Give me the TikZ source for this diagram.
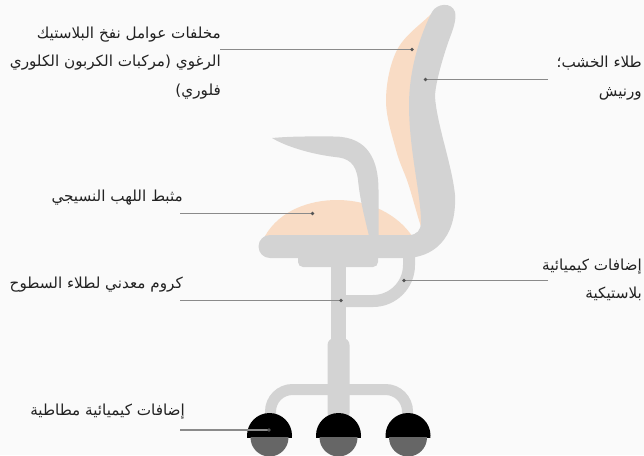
\documentclass[tikz,border=0pt]{standalone}
\usepackage{fontspec}
\newfontfamily\arabicfont[Script=Arabic]{DejaVu Sans}
\TeXXeTstate=1
\definecolor{bgcol}{HTML}{FAFAFA}
\definecolor{chairgray}{HTML}{D3D3D3}
\definecolor{cushion}{HTML}{F9DCC5}
\definecolor{leadgray}{HTML}{8A8A8A}
\definecolor{dotgray}{HTML}{555555}
\definecolor{ink}{HTML}{222222}
\definecolor{wheeldark}{HTML}{000000}
\definecolor{wheelgray}{HTML}{666666}
\begin{document}
\begin{tikzpicture}[x=1pt,y=-1pt,
  chair/.style={fill=chairgray},
  pad/.style={fill=cushion},
  tube/.style={draw=chairgray,line cap=butt},
  lbl/.style={font=\arabicfont\fontsize{15.2}{28.6}\selectfont,text=ink,inner sep=0pt,align=right},
  leader/.style={draw=leadgray,line width=1.3pt},
  tipdot/.style={fill=dotgray}]
\useasboundingbox (0,0) rectangle (644,455);
\fill[bgcol] (0,0) rectangle (644,455);

% back cushion (behind the frame)
\fill[pad] plot[smooth,tension=0.6] coordinates {(443,5) (428,17) (397,50) (386,100) (396,150) (408,183) (418,217) (424,236)}
  -- (425,200) -- (420,100) -- (435,20) -- cycle;
% seat cushion
\fill[pad] (265,236) .. controls (280,210) and (310,200) .. (337,200)
  .. controls (370,200) and (398,215) .. (412,236) -- cycle;

% armrest
\fill[chair] (272,138) .. controls (295,136) and (315,136.5) .. (335,136.5)
  .. controls (368,137) and (378.5,160) .. (378.5,190) -- (378.5,240) -- (370,240)
  .. controls (364,215) and (360,200) .. (358,180)
  .. controls (356,163) and (348,158) .. (335,157)
  .. controls (310,154) and (285,146) .. (272,138) -- cycle;

% seat and backrest frame
\fill[chair] (270,235) -- (409,235)
  .. controls (417,235) and (421,230) .. (421,222)
  .. controls (421,195) and (409,150) .. (409,105)
  .. controls (409,70) and (420,35) .. (432,12)
  .. controls (437,3) and (452,2) .. (455,12)
  .. controls (457,20) and (452,32) .. (449,40)
  .. controls (442,60) and (435,85) .. (435,97)
  .. controls (437,125) and (452,165) .. (455,195)
  .. controls (457,240) and (432,258) .. (405,258)
  -- (270,258)
  .. controls (263.6,258) and (258.5,252.9) .. (258.5,246.5)
  .. controls (258.5,240.1) and (263.6,235) .. (270,235) -- cycle;

% block under the seat
\fill[chair,rounded corners=5pt] (298,250) -- (298,267) -- (378,267) -- (378,250) -- cycle;
% gas lift column
\fill[chair] (331,262) rectangle (346,345);
\fill[chair,rounded corners=7pt] (327.5,420) -- (327.5,338) -- (349.5,338) -- (349.5,420) -- cycle;
% bracket from column to seat
\draw[tube,line width=12pt,rounded corners=36pt] (340,301) -- (409,301) -- (409,250);
% base legs
\draw[tube,line width=11pt,rounded corners=22pt] (270.5,425) -- (270.5,389.5) -- (407.5,389.5) -- (407.5,425);

% casters
\foreach \cx in {269.5,338.5,408}{
  \begin{scope}
    \clip (\cx-25,405) rectangle (\cx+25,437.5);
    \fill[wheeldark] (\cx,435.5) circle (22.5);
  \end{scope}
  \begin{scope}
    \clip (\cx-25,437.5) rectangle (\cx+25,460);
    \fill[wheelgray] (\cx,437.5) circle (19);
  \end{scope}
}

% label texts
\node[lbl,anchor=north east] (foam) at (221,26.5)
  {\beginR مخلفات عوامل نفخ البلاستيك\endR\\\beginR الرغوي (مركبات الكربون الكلوري\endR\\\beginR فلوري)\endR};
\node[lbl,anchor=north east] (wood) at (642,56)
  {\beginR طلاء الخشب؛\endR\\\beginR ورنيش\endR};
\node[lbl,anchor=north east] (flame) at (183,190)
  {\beginR مثبط اللهب النسيجي\endR};
\node[lbl,anchor=north east] (chrome) at (183,277)
  {\beginR كروم معدني لطلاء السطوح\endR};
\node[lbl,anchor=north east] (plastic) at (642,258.5)
  {\beginR إضافات كيميائية\endR\\\beginR بلاستيكية\endR};
\node[lbl,anchor=north east] (rubber) at (185,404)
  {\beginR إضافات كيميائية مطاطية\endR};

% leader lines: free end and point on the chair
\coordinate (foamA) at (220,49.5);   \coordinate (foamB) at (412,49.5);
\coordinate (woodA) at (548,79.5);   \coordinate (woodB) at (425.5,79.5);
\coordinate (flameA) at (180,213.5); \coordinate (flameB) at (312.5,213.5);
\coordinate (chromeA) at (180,300.5);\coordinate (chromeB) at (341,300.5);
\coordinate (plasticA) at (548,280.5);\coordinate (plasticB) at (404,280.5);
\coordinate (rubberA) at (180,430);  \coordinate (rubberB) at (269,430);
\foreach \k in {foam,wood,flame,chrome,plastic,rubber}{
  \draw[leader] (\k A) -- (\k B);
  \fill[tipdot] (\k B) circle (1.8);
}
\end{tikzpicture}
\end{document}
